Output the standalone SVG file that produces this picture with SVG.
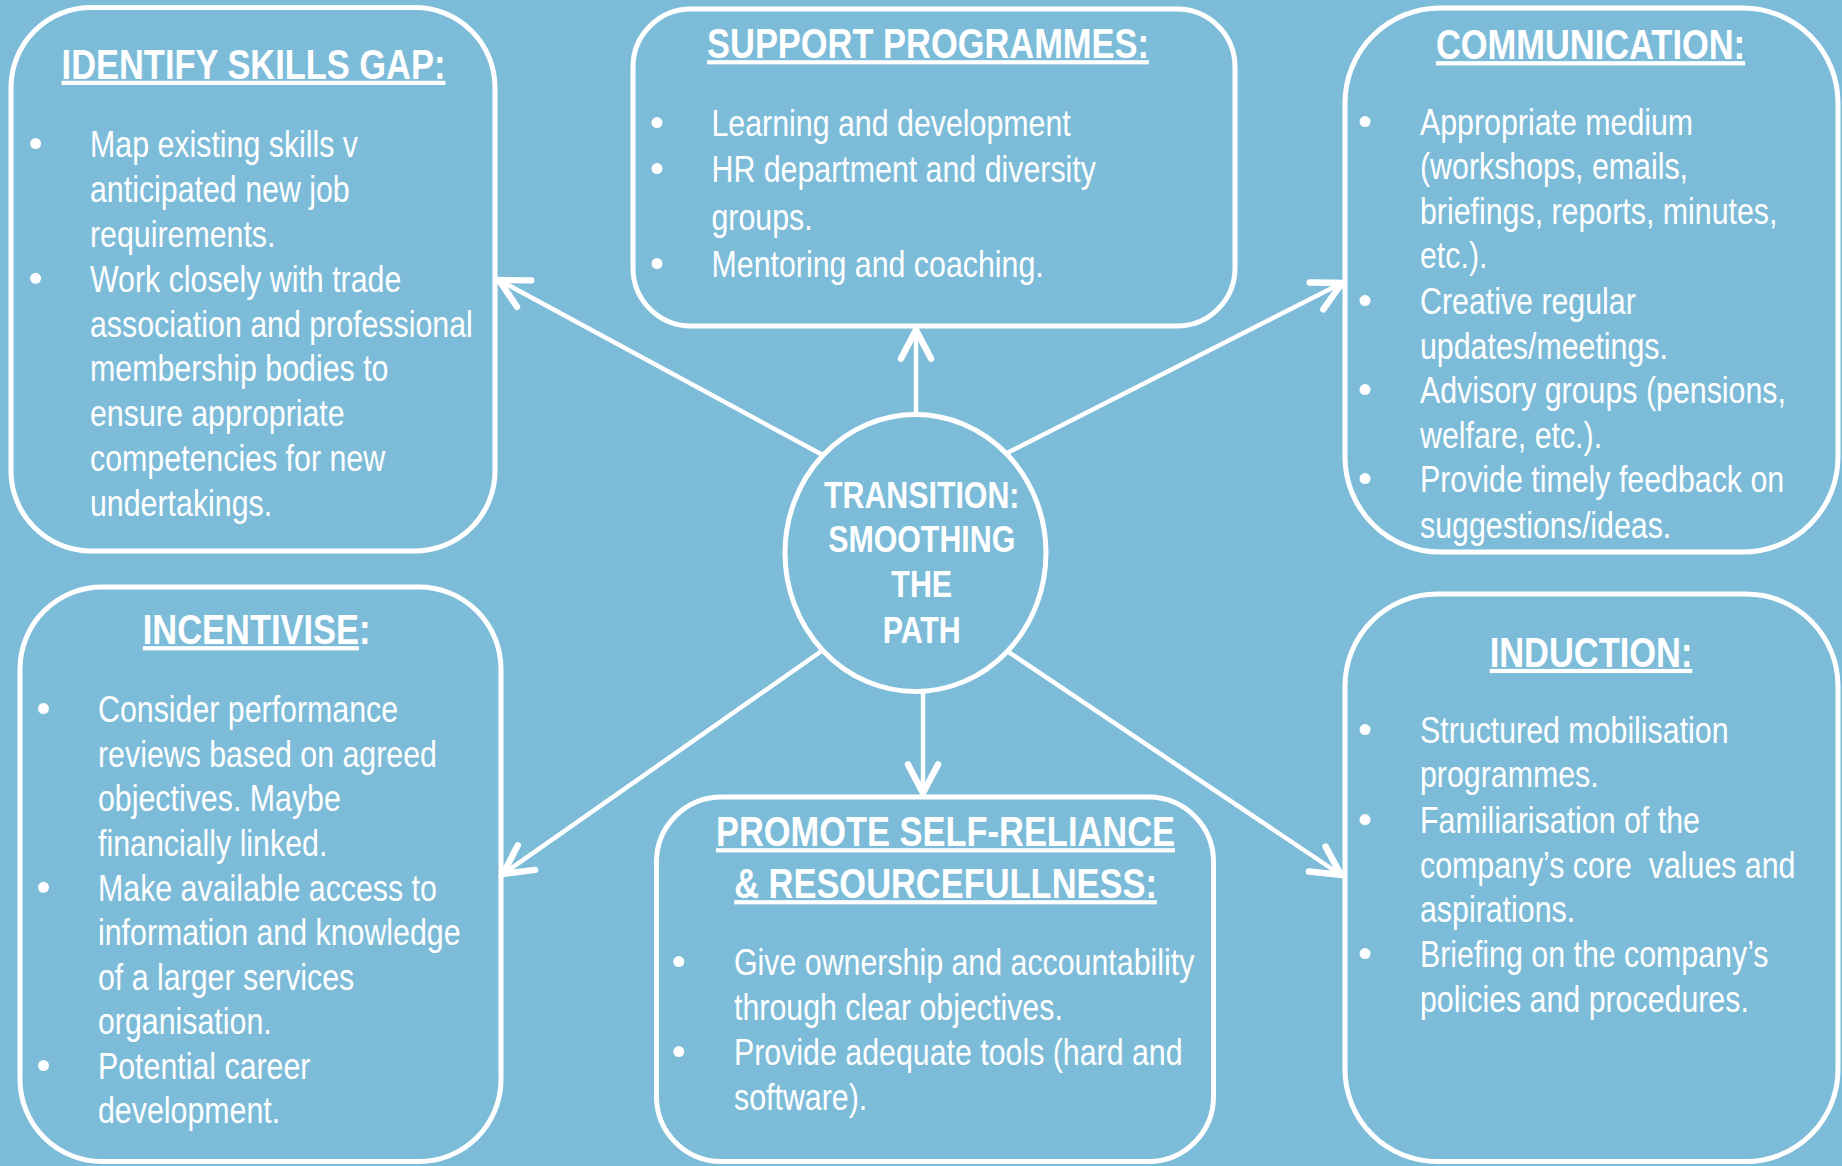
<svg xmlns="http://www.w3.org/2000/svg" width="1842" height="1166" viewBox="0 0 1842 1166">
  <defs>
    <style>
      .box { fill: none; stroke: #ffffff; stroke-width: 5; }
      .hub { fill: none; stroke: #ffffff; stroke-width: 5; }
      .link { stroke: #ffffff; stroke-width: 4.5; fill: none; marker-end: url(#chevron); }
      .title { font-family: "Liberation Sans", Arial, sans-serif; font-weight: bold; font-size: 42px; fill: #ffffff; text-anchor: middle; }
      .ul { text-decoration: underline; }
      .hubtext { font-family: "Liberation Sans", Arial, sans-serif; font-weight: bold; font-size: 37px; fill: #ffffff; text-anchor: middle; }
      .body { font-family: "Liberation Sans", Arial, sans-serif; font-size: 37px; fill: #ffffff; }
      .dot { fill: #ffffff; }
    </style>
    <marker id="chevron" markerUnits="userSpaceOnUse" markerWidth="40" markerHeight="40" viewBox="-24 -14 28 28" refX="0" refY="0" orient="auto">
      <path d="M -20 -10.5 L 0 0 L -20 10.5" fill="none" stroke="#ffffff" stroke-width="4.5" stroke-linecap="round" stroke-linejoin="miter"/>
    </marker>
  </defs>

  <rect width="1842" height="1166" fill="#7dbcd9"/>

  <!-- connectors from the hub to each box -->
  <g id="connectors">
    <line class="link" x1="916" y1="414.5" x2="916" y2="330"/>
    <line class="link" x1="923" y1="691.5" x2="923" y2="793"/>
    <line class="link" x1="822.7" y1="455" x2="499" y2="280"/>
    <line class="link" x1="1007" y1="453" x2="1342" y2="283"/>
    <line class="link" x1="823" y1="650" x2="503" y2="874"/>
    <line class="link" x1="1008" y1="651.7" x2="1341" y2="875"/>
  </g>

  <!-- central hub (narrow lettering: regular face squeezed to 82%) -->
  <g id="hub">
    <ellipse class="hub" cx="915.5" cy="553" rx="130.5" ry="138.5"/>
    <g transform="translate(921.7,0) scale(0.82,1)">
      <text class="hubtext" x="0" y="508.3">TRANSITION:</text>
      <text class="hubtext" x="0" y="551.7">SMOOTHING</text>
      <text class="hubtext" x="0" y="596.7">THE</text>
      <text class="hubtext" x="0" y="642.7">PATH</text>
    </g>
  </g>

  <!-- Identify skills gap -->
  <g id="identify-skills-gap">
    <rect class="box" x="11" y="7.5" width="484" height="543.5" rx="80" ry="80"/>
    <g transform="translate(253.5,0) scale(0.82,1)">
      <text class="title ul" x="0" y="78.6">IDENTIFY SKILLS GAP:</text>
    </g>
    <circle class="dot" cx="35.6" cy="143.6" r="5.5"/>
    <circle class="dot" cx="35.6" cy="278.3" r="5.5"/>
    <g transform="translate(90,0) scale(0.82,1)">
      <text class="body" x="0" y="157">Map existing skills v</text>
      <text class="body" x="0" y="201.9">anticipated new job</text>
      <text class="body" x="0" y="246.8">requirements.</text>
      <text class="body" x="0" y="291.7">Work closely with trade</text>
      <text class="body" x="0" y="336.6">association and professional</text>
      <text class="body" x="0" y="381.5">membership bodies to</text>
      <text class="body" x="0" y="426.4">ensure appropriate</text>
      <text class="body" x="0" y="471.3">competencies for new</text>
      <text class="body" x="0" y="516.2">undertakings.</text>
    </g>
  </g>

  <!-- Support programmes -->
  <g id="support-programmes">
    <rect class="box" x="633" y="9" width="602" height="317" rx="58" ry="58"/>
    <g transform="translate(928,0) scale(0.82,1)">
      <text class="title ul" x="0" y="58">SUPPORT PROGRAMMES:</text>
    </g>
    <circle class="dot" cx="657" cy="122.6" r="5.5"/>
    <circle class="dot" cx="657" cy="168.6" r="5.5"/>
    <circle class="dot" cx="657" cy="263.6" r="5.5"/>
    <g transform="translate(711.5,0) scale(0.82,1)">
      <text class="body" x="0" y="136">Learning and development</text>
      <text class="body" x="0" y="182">HR department and diversity</text>
      <text class="body" x="0" y="230">groups.</text>
      <text class="body" x="0" y="277">Mentoring and coaching.</text>
    </g>
  </g>

  <!-- Communication -->
  <g id="communication">
    <rect class="box" x="1345" y="8" width="493" height="544" rx="95" ry="95"/>
    <g transform="translate(1590.5,0) scale(0.82,1)">
      <text class="title ul" x="0" y="59">COMMUNICATION:</text>
    </g>
    <circle class="dot" cx="1365" cy="121.6" r="5.5"/>
    <circle class="dot" cx="1365" cy="300.6" r="5.5"/>
    <circle class="dot" cx="1365" cy="389.6" r="5.5"/>
    <circle class="dot" cx="1365" cy="478.6" r="5.5"/>
    <g transform="translate(1420,0) scale(0.82,1)">
      <text class="body" x="0" y="135">Appropriate medium</text>
      <text class="body" x="0" y="179.4">(workshops, emails,</text>
      <text class="body" x="0" y="223.8">briefings, reports, minutes,</text>
      <text class="body" x="0" y="268">etc.).</text>
      <text class="body" x="0" y="314">Creative regular</text>
      <text class="body" x="0" y="359">updates/meetings.</text>
      <text class="body" x="0" y="403">Advisory groups (pensions,</text>
      <text class="body" x="0" y="447.6">welfare, etc.).</text>
      <text class="body" x="0" y="492">Provide timely feedback on</text>
      <text class="body" x="0" y="538">suggestions/ideas.</text>
    </g>
  </g>

  <!-- Incentivise -->
  <g id="incentivise">
    <rect class="box" x="20" y="587" width="481" height="574.5" rx="82" ry="82"/>
    <g transform="translate(256.6,0) scale(0.82,1)">
      <text class="title" x="0" y="644"><tspan class="ul">INCENTIVISE</tspan>:</text>
    </g>
    <circle class="dot" cx="43.5" cy="708.6" r="5.5"/>
    <circle class="dot" cx="43.5" cy="887.3" r="5.5"/>
    <circle class="dot" cx="43.5" cy="1065.6" r="5.5"/>
    <g transform="translate(98,0) scale(0.82,1)">
      <text class="body" x="0" y="722">Consider performance</text>
      <text class="body" x="0" y="767">reviews based on agreed</text>
      <text class="body" x="0" y="811">objectives. Maybe</text>
      <text class="body" x="0" y="856">financially linked.</text>
      <text class="body" x="0" y="900.7">Make available access to</text>
      <text class="body" x="0" y="945.5">information and knowledge</text>
      <text class="body" x="0" y="990">of a larger services</text>
      <text class="body" x="0" y="1034.5">organisation.</text>
      <text class="body" x="0" y="1079">Potential career</text>
      <text class="body" x="0" y="1123">development.</text>
    </g>
  </g>

  <!-- Promote self-reliance -->
  <g id="promote-self-reliance">
    <rect class="box" x="656.5" y="797" width="557" height="364.5" rx="65" ry="65"/>
    <g transform="translate(945.5,0) scale(0.82,1)">
      <text class="title ul" x="0" y="846">PROMOTE SELF-RELIANCE</text>
      <text class="title ul" x="0" y="898">&amp; RESOURCEFULLNESS:</text>
    </g>
    <circle class="dot" cx="678.8" cy="961.6" r="5.5"/>
    <circle class="dot" cx="678.8" cy="1051.6" r="5.5"/>
    <g transform="translate(734,0) scale(0.82,1)">
      <text class="body" x="0" y="975">Give ownership and accountability</text>
      <text class="body" x="0" y="1020">through clear objectives.</text>
      <text class="body" x="0" y="1065">Provide adequate tools (hard and</text>
      <text class="body" x="0" y="1110">software).</text>
    </g>
  </g>

  <!-- Induction -->
  <g id="induction">
    <rect class="box" x="1345" y="594" width="493" height="567.5" rx="92" ry="92"/>
    <g transform="translate(1591,0) scale(0.82,1)">
      <text class="title ul" x="0" y="666.7">INDUCTION:</text>
    </g>
    <circle class="dot" cx="1365" cy="729.6" r="5.5"/>
    <circle class="dot" cx="1365" cy="819.6" r="5.5"/>
    <circle class="dot" cx="1365" cy="953.6" r="5.5"/>
    <g transform="translate(1420,0) scale(0.82,1)">
      <text class="body" x="0" y="743">Structured mobilisation</text>
      <text class="body" x="0" y="787">programmes.</text>
      <text class="body" x="0" y="833">Familiarisation of the</text>
      <text class="body" x="0" y="878" xml:space="preserve">company’s core  values and</text>
      <text class="body" x="0" y="922">aspirations.</text>
      <text class="body" x="0" y="967">Briefing on the company’s</text>
      <text class="body" x="0" y="1012">policies and procedures.</text>
    </g>
  </g>
</svg>
